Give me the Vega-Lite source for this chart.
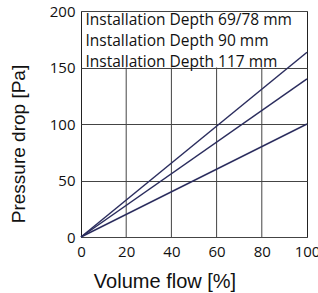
{
  "$schema": "https://vega.github.io/schema/vega-lite/v6.json",
  "width": 226,
  "height": 226,
  "autosize": "none",
  "padding": {"left": 81, "top": 11, "right": 11, "bottom": 56},
  "background": "white",
  "config": {
    "view": {"stroke": "#222", "strokeWidth": 1},
    "font": "Open Sans"
  },
  "datasets": {
    "grid": [{"flow": 20}, {"flow": 40}, {"flow": 60}, {"flow": 80}],
    "curves": [
      {"series": "Installation Depth 69/78 mm", "flow": 0, "pressure": 0},
      {"series": "Installation Depth 69/78 mm", "flow": 100, "pressure": 163.5},
      {"series": "Installation Depth 90 mm", "flow": 0, "pressure": 0},
      {"series": "Installation Depth 90 mm", "flow": 100, "pressure": 140},
      {"series": "Installation Depth 117 mm", "flow": 0, "pressure": 0},
      {"series": "Installation Depth 117 mm", "flow": 100, "pressure": 100}
    ]
  },
  "layer": [
    {
      "data": {"name": "grid"},
      "mark": {"type": "rule", "color": "#444", "strokeWidth": 1},
      "encoding": {
        "x": {
          "field": "flow", "type": "quantitative",
          "scale": {"domain": [0, 100], "nice": false},
          "axis": {
            "values": [0, 20, 40, 60, 80, 100],
            "ticks": false, "domain": false, "grid": false, "labelFlush": false,
            "labelFontSize": 15, "labelColor": "#111", "labelPadding": 7,
            "title": "Volume flow [%]",
            "titleFont": "Liberation Sans", "titleFontSize": 20, "titleFontWeight": "normal", "titleColor": "#111",
            "titleX": 83.5, "titleY": 50, "titleAlign": "center", "titleBaseline": "alphabetic"
          }
        },
        "y": {
          "datum": 0, "type": "quantitative",
          "scale": {"domain": [0, 200], "nice": false},
          "axis": {
            "values": [0, 50, 100, 150, 200],
            "ticks": false, "domain": false, "grid": true, "gridColor": "#444", "gridOpacity": 1, "labelFlush": false,
            "labelFontSize": 15, "labelColor": "#111", "labelPadding": 6,
            "title": "Pressure drop [Pa]",
            "titleFont": "Liberation Sans", "titleFontSize": 19, "titleFontWeight": "normal", "titleColor": "#111",
            "titleX": -57, "titleY": 132.5, "titleAlign": "center", "titleBaseline": "alphabetic", "titleAngle": -90
          }
        },
        "y2": {"datum": 150}
      }
    },
    {
      "data": {"name": "curves"},
      "mark": {"type": "line", "strokeWidth": 1.5},
      "encoding": {
        "x": {"field": "flow", "type": "quantitative"},
        "y": {"field": "pressure", "type": "quantitative"},
        "color": {
          "field": "series", "type": "nominal",
          "scale": {
            "domain": ["Installation Depth 69/78 mm", "Installation Depth 90 mm", "Installation Depth 117 mm"],
            "range": ["#2b2d5e", "#2b2d5e", "#2b2d5e"]
          },
          "legend": {
            "orient": "none", "legendX": -11, "legendY": 1,
            "title": null, "symbolSize": 0, "symbolOpacity": 0, "symbolStrokeWidth": 0,
            "labelOffset": 0, "labelFontSize": 15.5, "labelColor": "#111", "labelLimit": 300,
            "rowPadding": 4
          }
        }
      }
    }
  ]
}
